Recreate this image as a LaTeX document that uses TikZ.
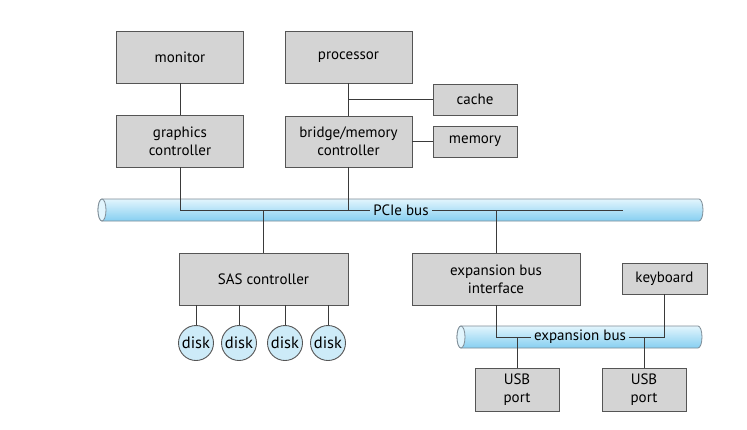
\documentclass[tikz,border=0pt]{standalone}
\usepackage{fontspec}
\setmainfont{PT Sans}
\definecolor{boxfill}{HTML}{D4D4D4}
\definecolor{boxline}{HTML}{555555}
\definecolor{wire}{HTML}{3A3A3A}
\definecolor{bustop}{HTML}{E2F5FD}
\definecolor{busbot}{HTML}{86CFF1}
\definecolor{busline}{HTML}{7D8B95}
\definecolor{diskfill}{HTML}{CDEBF8}
\tikzset{
  unit/.style={draw=boxline, fill=boxfill, line width=0.9pt, align=center, font=\fontsize{15}{18}\selectfont, inner sep=0pt},
  diskn/.style={circle, draw=boxline, fill=diskfill, line width=0.9pt, minimum size=35pt, inner sep=0pt, font=\fontsize{16.5}{18}\selectfont},
  wireline/.style={draw=wire, line width=0.9pt},
  buslbl/.style={font=\fontsize{15}{18}\selectfont, inner sep=3pt},
  busbody/.style={top color=bustop, bottom color=busbot, draw=busline, line width=0.8pt}
}
\begin{document}
\begin{tikzpicture}[x=1pt,y=1pt]
\useasboundingbox (0,0) rectangle (747,-429);
% buses
\shade[busbody] (102,-199) -- (699,-199) arc[start angle=90, end angle=-90, x radius=4pt, y radius=11pt] -- (102,-221) arc[start angle=270, end angle=90, x radius=4pt, y radius=11pt] -- cycle;
\draw[draw=busline, fill=bustop, line width=0.8pt] (102,-210) ellipse[x radius=4pt, y radius=11pt];
\shade[busbody] (461,-326) -- (698,-326) arc[start angle=90, end angle=-90, x radius=4pt, y radius=11pt] -- (461,-348) arc[start angle=270, end angle=90, x radius=4pt, y radius=11pt] -- cycle;
\draw[draw=busline, fill=bustop, line width=0.8pt] (461,-337) ellipse[x radius=4pt, y radius=11pt];

% nodes
\node[unit, minimum width=127pt, minimum height=52pt] (monitor) at (180,-57) {monitor};
\node[unit, minimum width=127pt, minimum height=52pt] (processor) at (348.5,-57) {processor};
\node[unit, minimum width=84pt, minimum height=31pt] (cache) at (475,-99.5) {cache};
\node[unit, minimum width=127pt, minimum height=51pt] (bridge) at (348.5,-141.5) {bridge/memory\\controller};
\node[unit, minimum width=84pt, minimum height=31pt] (memory) at (475,-141.5) {memory};
\node[unit, minimum width=127pt, minimum height=52pt] (graphics) at (180,-141) {graphics\\controller};
\node[unit, minimum width=169pt, minimum height=52pt] (sas) at (263.5,-279) {SAS controller};
\node[unit, minimum width=168pt, minimum height=52pt] (expint) at (496,-279) {expansion bus\\interface};
\node[unit, minimum width=85pt, minimum height=31pt] (keyboard) at (664.5,-278.5) {keyboard};
\node[unit, minimum width=84pt, minimum height=43pt] (usba) at (517,-389.5) {USB\\port};
\node[unit, minimum width=84pt, minimum height=43pt] (usbb) at (644,-389.5) {USB\\port};
\node[diskn] (d1) at (196,-343) {disk};
\node[diskn] (d2) at (239,-343) {disk};
\node[diskn] (d3) at (285,-343) {disk};
\node[diskn] (d4) at (328,-343) {disk};

\node[buslbl] (pcie) at (401,-210) {PCIe bus};
\node[buslbl] (expb) at (580,-337) {expansion bus};

\coordinate (pcieend) at (623,-210);
\coordinate (sastap) at (263.5,-210);
\coordinate (exptap) at (496,-210);
\coordinate (usbatap) at (517,-337);
\coordinate (usbbtap) at (644,-337);

% connectors
\draw[wireline] (monitor) -- (graphics);
\draw[wireline] (processor) -- (bridge);
\draw[wireline] (cache.west) -- (cache.west -| processor.south);
\draw[wireline] (memory.west) -- (bridge.east |- memory.west);
\draw[wireline] (graphics.south) |- (pcie.west);
\draw[wireline] (bridge.south) -- (bridge.south |- pcie.west);
\draw[wireline] (pcie.east) -- (pcieend);
\draw[wireline] (sastap) -- (sas.north);
\draw[wireline] (exptap) -- (expint.north);
\draw[wireline] (expint.south) |- (expb.west);
\draw[wireline] (expb.east) -| (keyboard.south);
\draw[wireline] (usbatap) -- (usba.north);
\draw[wireline] (usbbtap) -- (usbb.north);
\draw[wireline] (sas.south -| d1) -- (d1);
\draw[wireline] (sas.south -| d2) -- (d2);
\draw[wireline] (sas.south -| d3) -- (d3);
\draw[wireline] (sas.south -| d4) -- (d4);
\end{tikzpicture}
\end{document}
